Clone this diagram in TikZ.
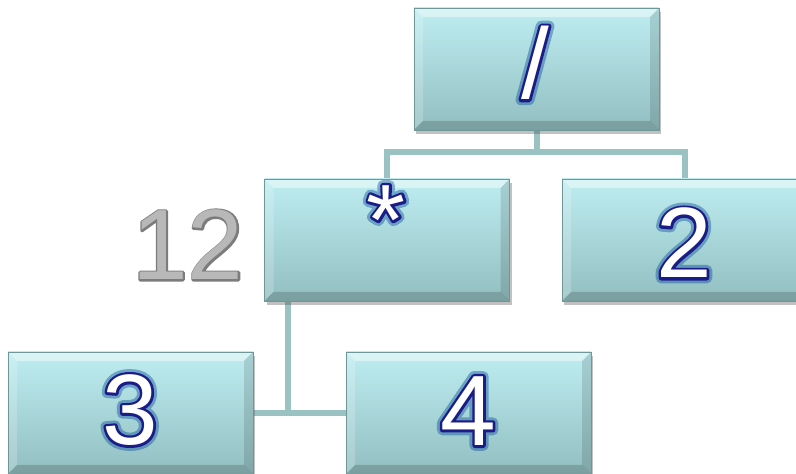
\documentclass[tikz,border=0pt]{standalone}
\usepackage{fontspec}
\setmainfont{Liberation Sans}
\usetikzlibrary{shadows,backgrounds}
\definecolor{boxtop}{HTML}{BEEDF1}
\definecolor{boxbot}{HTML}{92BEC0}
\definecolor{boxedge}{HTML}{6F9799}
\definecolor{conn}{HTML}{9BC2C3}
\definecolor{navyline}{HTML}{1C1C88}
\definecolor{grayfill}{HTML}{B8B8B8}
\definecolor{grayline}{HTML}{7C7C7C}
% stroked text (text render mode 2 = fill + stroke), drawn under a plain fill
\newcommand\strk[3]{\textcolor{#1}{\special{pdf:literal 2 Tr #2 w 1 j}#3\special{pdf:literal 0 Tr 1 w}}}
\tikzset{
  box/.style={minimum width=245pt, minimum height=122pt, inner sep=0pt,
    top color=boxtop, bottom color=boxbot, draw=boxedge, line width=0.6pt,
    drop shadow={shadow xshift=2pt, shadow yshift=-4pt, opacity=0.35, fill=black!70},
    path picture={
      \fill[white,opacity=0.45] (path picture bounding box.north west) -- (path picture bounding box.north east)
        -- ([shift={(-9pt,-9pt)}]path picture bounding box.north east) -- ([shift={(9pt,-9pt)}]path picture bounding box.north west) -- cycle;
      \fill[white,opacity=0.2] (path picture bounding box.north west) -- (path picture bounding box.south west)
        -- ([shift={(9pt,9pt)}]path picture bounding box.south west) -- ([shift={(9pt,-9pt)}]path picture bounding box.north west) -- cycle;
      \fill[black,opacity=0.12] (path picture bounding box.north east) -- (path picture bounding box.south east)
        -- ([shift={(-9pt,9pt)}]path picture bounding box.south east) -- ([shift={(-9pt,-9pt)}]path picture bounding box.north east) -- cycle;
      \fill[black,opacity=0.16] (path picture bounding box.south west) -- (path picture bounding box.south east)
        -- ([shift={(-9pt,9pt)}]path picture bounding box.south east) -- ([shift={(9pt,9pt)}]path picture bounding box.south west) -- cycle;
    }},
  lbl/.style={text=white, font=\fontsize{100}{100}\selectfont, inner sep=0pt, anchor=center},
  glowlbl/.style={lbl, opacity=0.4},
  connector/.style={draw=conn, line width=6pt},
}
\newcommand\glw[1]{\strk{blue!55!cyan!60!black}{11}{#1}}
\newcommand\outl[1]{\strk{navyline}{5.2}{#1}}
\begin{document}
\begin{tikzpicture}[x=1pt,y=1pt]
\useasboundingbox (0,0) rectangle (796,474);
\clip (0,0) rectangle (796,474);
% boxes
\node[box] (div) at (536.5,405) {};
\node[box] (mul) at (387,234) {};
\node[box] (two) at (684.5,234) {};
\node[box] (three) at (130.5,61) {};
\node[box] (four) at (468.5,61) {};
% connectors
\begin{scope}[on background layer]
  \coordinate (j1) at ([yshift=-22pt]div.south);
  \draw[connector] (div.south) -- (j1);
  \draw[connector] (j1) -| (mul.north);
  \draw[connector] (j1) -| (two.north);
  \coordinate (m1) at ([xshift=24pt]mul.south west);
  \draw[connector] (m1) -- (m1 |- three.east);
  \draw[connector] (three.east) -- (four.west);
\end{scope}
% labels: glow, outline, then white fill
\begin{scope}[font=\bfseries\fontsize{100}{100}\selectfont]
\node[glowlbl] (gdiv) at (535,411) {\glw{/}};
\node[lbl] (odiv) at (535,411) {\outl{/}};
\node[lbl] (tdiv) at (535,411) {/};
\end{scope}
\node[glowlbl] (gmul) at (386,254) {\glw{*}};
\node[lbl] (omul) at (386,254) {\outl{*}};
\node[lbl] (tmul) at (386,254) {*};
\node[glowlbl] (gtwo) at (684,231) {\glw{2}};
\node[lbl] (otwo) at (684,231) {\outl{2}};
\node[lbl] (ttwo) at (684,231) {2};
\node[glowlbl] (gthree) at (130,64) {\glw{3}};
\node[lbl] (othree) at (130,64) {\outl{3}};
\node[lbl] (tthree) at (130,64) {3};
\node[glowlbl] (gfour) at (468,63) {\glw{4}};
\node[lbl] (ofour) at (468,63) {\outl{4}};
\node[lbl] (tfour) at (468,63) {4};
\node[lbl] (oval) at (188,229) {\strk{grayline}{3.4}{12}};
\node[lbl, text=grayfill] (val) at (188,229) {12};
\end{tikzpicture}
\end{document}
